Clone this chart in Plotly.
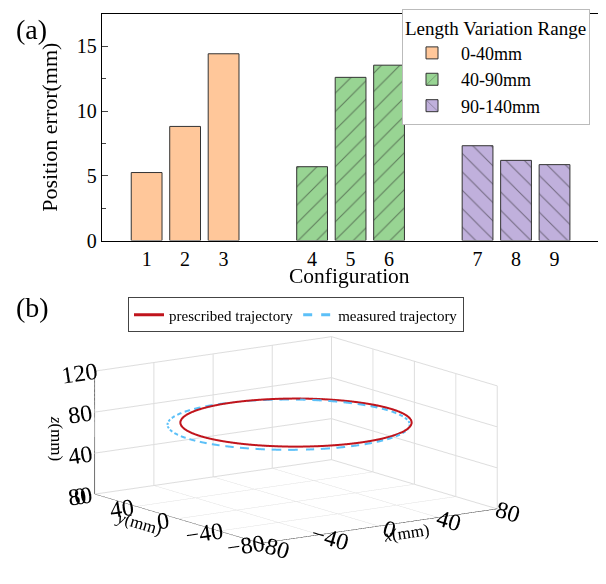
import numpy as np
import plotly.graph_objects as go

# ---------------- data (a) ----------------
configs = ["1", "2", "3", "4", "5", "6", "7", "8", "9"]
group_names = ["0-40mm", "40-90mm", "90-140mm"]
err_0_40 = [5.25, 8.81, 14.42]
err_40_90 = [5.70, 12.60, 13.54]
err_90_140 = [7.32, 6.19, 5.86]

# ---------------- data (b) ----------------
prescribed_center = [0, 0, 77]     # mm
prescribed_radius = 64             # mm
measured_center = [-5, 0, 76]      # mm
measured_radius = 67               # mm

FONT = "Liberation Serif, Times New Roman, serif"
colors = ["#FFC79A", "#98D493", "#C0B0DC"]
patterns = ["", "/", "\\"]
series = [err_0_40, err_40_90, err_90_140]
RED, BLUE = "#C0141C", "#5CC0F8"

GROUP_STEP = 4.3
fig = go.Figure()
tickvals = []
for g, (vals, name) in enumerate(zip(series, group_names)):
    xs = [1 + g * GROUP_STEP + i for i in range(len(vals))]
    tickvals += xs
    fig.add_trace(go.Bar(
        x=xs, y=vals, name=name, width=0.8,
        marker=dict(color=colors[g], line=dict(color="#333", width=1),
                    pattern=dict(shape=patterns[g], fgcolor="#222", size=13,
                                 solidity=0.08, fillmode="overlay")),
        legend="legend", xaxis="x", yaxis="y",
    ))

theta = np.linspace(0, 2 * np.pi, 241)
px_ = prescribed_center[0] + prescribed_radius * np.cos(theta)
py_ = prescribed_center[1] + prescribed_radius * np.sin(theta)
pz_ = np.full_like(theta, prescribed_center[2])

# measured trajectory, drawn with screen-like dashes (gaps as NaN breaks)
N_DASH, DUTY = 46, 0.6
tm = np.linspace(0, 2 * np.pi, N_DASH * 12 + 1)
gap = ((tm / (2 * np.pi / N_DASH)) % 1) > DUTY
mx_ = measured_center[0] + measured_radius * np.cos(tm)
my_ = measured_center[1] + measured_radius * np.sin(tm)
mz_ = np.full_like(tm, measured_center[2])
mx_[gap] = np.nan; my_[gap] = np.nan; mz_[gap] = np.nan

fig.add_trace(go.Scatter3d(x=px_, y=py_, z=pz_, mode="lines",
                           name="prescribed trajectory", showlegend=False,
                           line=dict(color=RED, width=4), scene="scene"))
fig.add_trace(go.Scatter3d(x=mx_, y=my_, z=mz_, mode="lines",
                           name="measured trajectory", showlegend=False,
                           connectgaps=False,
                           line=dict(color=BLUE, width=4), scene="scene"))
# legend entries for panel (b)
fig.add_trace(go.Scatter(x=[None], y=[None], mode="lines",
                         name="prescribed trajectory", legend="legend2",
                         line=dict(color=RED, width=3)))
fig.add_trace(go.Scatter(x=[None], y=[None], mode="lines",
                         name="measured trajectory", legend="legend2",
                         line=dict(color=BLUE, width=3, dash="dash")))

W, H = 606, 584
def px2x(p): return p / W
def px2y(p): return 1 - p / H

S = 2.05
AZ, EL = np.radians(35.0), np.radians(12.0)
eye = dict(x=-np.sin(AZ) * np.cos(EL) * 2, y=-np.cos(AZ) * np.cos(EL) * 2,
           z=np.sin(EL) * 2)
fig.update_layout(
    width=W, height=H, margin=dict(l=0, r=0, t=0, b=0),
    paper_bgcolor="white", plot_bgcolor="white",
    font=dict(family=FONT, size=19, color="black"),
    bargap=0.2,
    xaxis=dict(domain=[px2x(94), px2x(590)], range=[-0.16, 12.73],
               tickvals=tickvals, ticktext=configs, ticks="",
               showline=True, linecolor="black", linewidth=1.3, mirror=True,
               showgrid=False, zeroline=False, anchor="y",
               tickfont=dict(size=20)),
    yaxis=dict(domain=[px2y(237), px2y(6)], range=[0, 17.5],
               tickvals=[0, 5, 10, 15], ticks="inside", ticklen=6,
               minor=dict(tickvals=[2.5, 7.5, 12.5], ticks="inside", ticklen=4),
               showline=True, linecolor="black", linewidth=1.3, mirror=True,
               showgrid=False, zeroline=False, anchor="x",
               tickfont=dict(size=20),
               title=dict(text="Position error(mm)", font=dict(size=22), standoff=13)),
    legend=dict(title=dict(text="Length Variation Range", side="top",
                           font=dict(size=19)),
                x=px2x(582), xanchor="right", y=px2y(1), yanchor="top",
                bgcolor="white", bordercolor="#BBBBBB", borderwidth=1,
                font=dict(size=18), tracegroupgap=0, itemwidth=48),
    legend2=dict(orientation="h", x=px2x(288), xanchor="center",
                 y=px2y(295), yanchor="top", bgcolor="white",
                 bordercolor="#444", borderwidth=1, font=dict(size=15),
                 itemwidth=30),
    scene=dict(
        domain=dict(x=[0, 0.95], y=[0, 0.493]),
        aspectmode="manual", aspectratio=dict(x=S, y=S, z=0.435 * S),
        camera=dict(projection=dict(type="orthographic"), eye=eye,
                    up=dict(x=0, y=0, z=1), center=dict(x=0, y=0, z=0)),
        xaxis=dict(range=[-80, 80], tickvals=[-80, -40, 0, 40, 80],
                   title=dict(text="<i>x</i>(mm)", font=dict(size=17)),
                   showbackground=False, gridcolor="#DDDDDD", showline=True,
                   linecolor="black", showspikes=False, zeroline=False,
                   tickfont=dict(size=17)),
        yaxis=dict(range=[-80, 80], tickvals=[-80, -40, 0, 40, 80],
                   title=dict(text="<i>y</i>(mm)", font=dict(size=17)),
                   showbackground=False, gridcolor="#DDDDDD", showline=True,
                   linecolor="black", showspikes=False, zeroline=False,
                   tickfont=dict(size=17)),
        zaxis=dict(range=[0, 120], tickvals=[0, 40, 80, 120],
                   title=dict(text="<i>z</i>(mm)", font=dict(size=17)),
                   showbackground=False, gridcolor="#DDDDDD", showline=True,
                   linecolor="black", showspikes=False, zeroline=False,
                   tickfont=dict(size=17)),
    ),
    annotations=[
        dict(text="(a)", x=px2x(6), y=px2y(22), xref="paper", yref="paper",
             xanchor="left", yanchor="middle", showarrow=False,
             font=dict(size=28)),
        dict(text="(b)", x=px2x(6), y=px2y(305), xref="paper", yref="paper",
             xanchor="left", yanchor="middle", showarrow=False,
             font=dict(size=28)),
        dict(text="Configuration", x=px2x(342), y=px2y(273), xref="paper",
             yref="paper", xanchor="center", yanchor="middle", showarrow=False,
             font=dict(size=21.5)),
    ],
)

fig.write_html("out.html")
